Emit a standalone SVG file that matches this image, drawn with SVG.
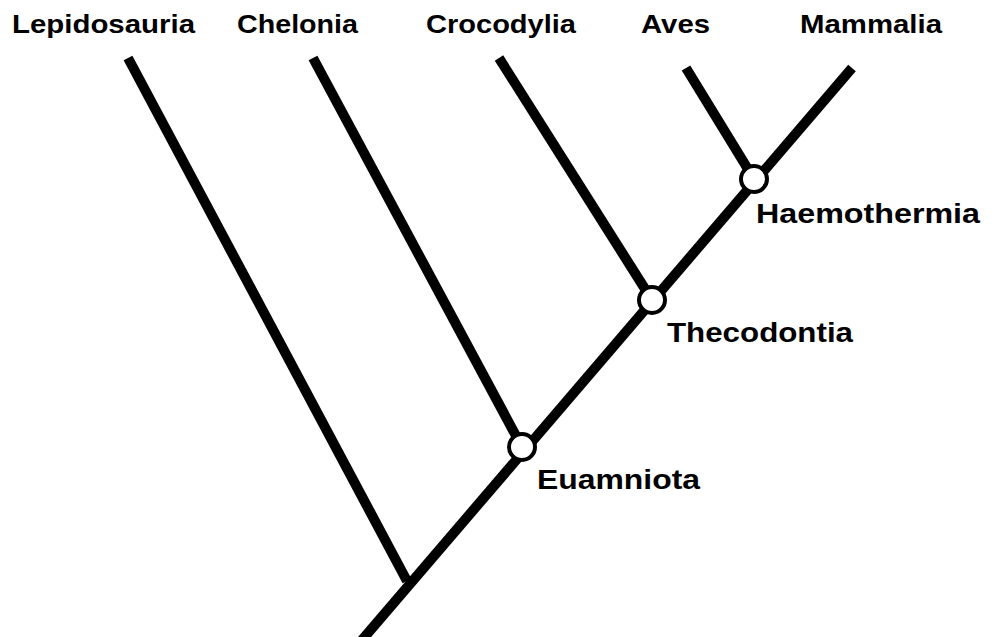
<svg xmlns="http://www.w3.org/2000/svg" width="995" height="637" viewBox="0 0 995 637">
<style>
.br{stroke:#000;stroke-width:10;fill:none;stroke-linecap:butt}
.lbl{font-family:"Liberation Sans",Arial,sans-serif;font-weight:bold;fill:#000}
.top{font-size:25px}
.nd{font-size:28px}
.c{fill:#fff;stroke:#000;stroke-width:4}
</style>
<rect width="995" height="637" fill="#fff"/>
<g id="connectors">
<line class="br" x1="362" y1="640" x2="852" y2="68"/>
<line class="br" x1="128" y1="58" x2="407" y2="581"/>
<line class="br" x1="313" y1="58" x2="522" y2="447"/>
<line class="br" x1="499" y1="58" x2="652" y2="300"/>
<line class="br" x1="686" y1="68" x2="754" y2="179"/>
</g>
<g id="Lepidosauria"><text class="lbl top" x="12" y="33" textLength="183" lengthAdjust="spacingAndGlyphs">Lepidosauria</text></g>
<g id="Chelonia"><text class="lbl top" x="237" y="33" textLength="121" lengthAdjust="spacingAndGlyphs">Chelonia</text></g>
<g id="Crocodylia"><text class="lbl top" x="426" y="33" textLength="150" lengthAdjust="spacingAndGlyphs">Crocodylia</text></g>
<g id="Aves"><text class="lbl top" x="641" y="33" textLength="69" lengthAdjust="spacingAndGlyphs">Aves</text></g>
<g id="Mammalia"><text class="lbl top" x="800" y="33" textLength="142" lengthAdjust="spacingAndGlyphs">Mammalia</text></g>
<g id="Euamniota"><circle class="c" cx="522" cy="447" r="13"/><text class="lbl nd" x="537" y="489" textLength="163" lengthAdjust="spacingAndGlyphs">Euamniota</text></g>
<g id="Thecodontia"><circle class="c" cx="652" cy="300" r="13"/><text class="lbl nd" x="667" y="342" textLength="186" lengthAdjust="spacingAndGlyphs">Thecodontia</text></g>
<g id="Haemothermia"><circle class="c" cx="754" cy="179" r="13"/><text class="lbl nd" x="756" y="223" textLength="224" lengthAdjust="spacingAndGlyphs">Haemothermia</text></g>
</svg>
